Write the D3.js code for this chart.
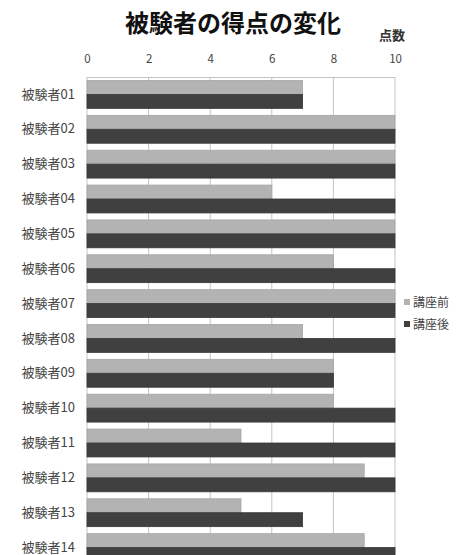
<!DOCTYPE html>
<html>
<head>
<meta charset="utf-8">
<script src="https://cdn.jsdelivr.net/npm/d3@7/dist/d3.min.js"></script>
<style>
  html, body { margin: 0; padding: 0; background: #fff; }
  svg { display: block; }
  text { font-family: "Noto Sans CJK JP", "Noto Sans", sans-serif; }
</style>
</head>
<body>
<script>
// Subjects and their scores before / after the course
const subjects = ["被験者01","被験者02","被験者03","被験者04","被験者05","被験者06","被験者07",
                  "被験者08","被験者09","被験者10","被験者11","被験者12","被験者13","被験者14"];
const before = [7, 10, 10, 6, 10, 8, 10, 7, 8, 8, 5, 9, 5, 9];
const after  = [7, 10, 10, 10, 10, 10, 10, 10, 8, 10, 10, 10, 7, 10];
const seriesNames = ["講座前", "講座後"];
const seriesColors = ["#b3b3b3", "#404040"];
const xTicks = [0, 2, 4, 6, 8, 10];

const W = 459, H = 555;
const plot = { left: 87, right: 395, top: 77, bottom: 565 };

const svg = d3.select("body").append("svg").attr("width", W).attr("height", H);

const x = d3.scaleLinear().domain([0, 10]).range([plot.left, plot.right]);
const y = d3.scaleBand().domain(subjects).range([plot.top, plot.bottom]).paddingInner(0.2).paddingOuter(0.1);
const ySub = d3.scaleBand().domain([0, 1]).range([0, y.bandwidth()]);

// Title and axis caption
svg.append("text").attr("x", 233).attr("y", 32).attr("text-anchor", "middle")
  .attr("font-size", 24).attr("font-weight", "bold").attr("fill", "#111")
  .text("被験者の得点の変化");
svg.append("text").attr("x", 392).attr("y", 40).attr("text-anchor", "middle")
  .attr("font-size", 13).attr("font-weight", "bold").attr("fill", "#333")
  .text("点数");

// Vertical gridlines
svg.append("g").selectAll("line").data(xTicks).join("line")
  .attr("x1", d => x(d)).attr("x2", d => x(d))
  .attr("y1", plot.top).attr("y2", plot.bottom)
  .attr("stroke", "#c4c4c4").attr("stroke-width", 1);
svg.append("line").attr("x1", plot.left).attr("x2", plot.right)
  .attr("y1", plot.top + 0.5).attr("y2", plot.top + 0.5)
  .attr("stroke", "#c4c4c4");

// Top value axis
const xAxis = svg.append("g").attr("transform", `translate(0,${plot.top - 14})`)
  .call(d3.axisTop(x).tickValues(xTicks).tickSize(0).tickPadding(0));
xAxis.select(".domain").remove();
xAxis.selectAll("text").attr("font-size", 11.5).attr("fill", "#444")
  .attr("dy", 0)
  .attr("font-family", "\"Noto Sans CJK JP\", sans-serif");

// Category axis
const yAxis = svg.append("g").attr("transform", `translate(${plot.left - 12},0)`)
  .call(d3.axisLeft(y).tickSize(0).tickPadding(0));
yAxis.select(".domain").remove();
yAxis.selectAll("text").attr("font-size", 13).attr("fill", "#444")
  .attr("font-family", "\"Noto Sans CJK JP\", sans-serif");

// Bars
const rows = subjects.map((s, i) => ({ s, vals: [before[i], after[i]] }));
const g = svg.append("g").selectAll("g").data(rows).join("g")
  .attr("transform", d => `translate(0,${y(d.s)})`);
g.selectAll("rect").data(d => d.vals.map((v, k) => ({ v, k }))).join("rect")
  .attr("x", x(0))
  .attr("y", d => ySub(d.k))
  .attr("width", d => x(d.v) - x(0))
  .attr("height", ySub.bandwidth())
  .attr("fill", d => seriesColors[d.k])
  .attr("stroke", d => d.k === 0 ? "#a6a6a6" : "#383838")
  .attr("stroke-width", 0.8);

// Legend
const legend = svg.append("g").selectAll("g").data(seriesNames).join("g")
  .attr("transform", (d, i) => `translate(407,${302 + i * 22})`);
legend.append("rect").attr("x", -3).attr("y", -3).attr("width", 6).attr("height", 6)
  .attr("fill", (d, i) => seriesColors[i]);
legend.append("text").attr("x", 6).attr("y", 4.5).attr("font-size", 12).attr("fill", "#444")
  .text(d => d);
</script>
</body>
</html>
